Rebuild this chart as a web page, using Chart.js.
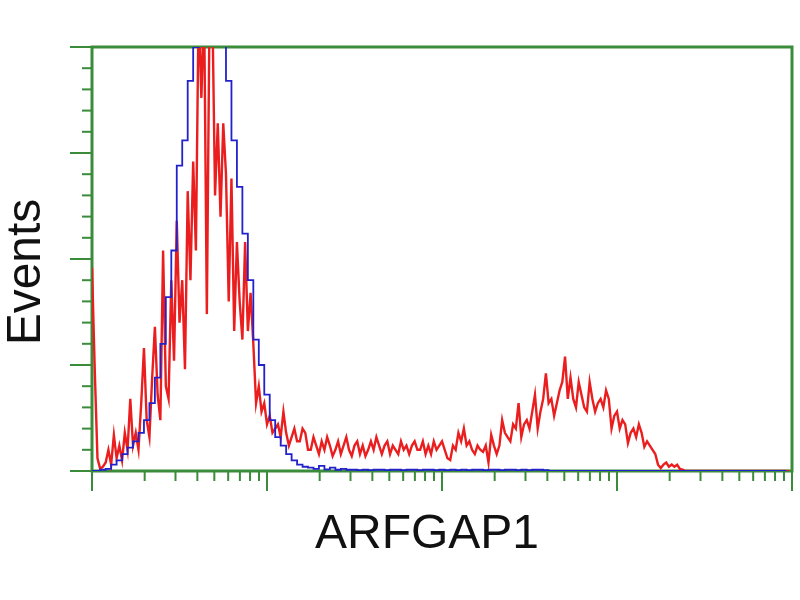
<!DOCTYPE html>
<html><head><meta charset="utf-8">
<script src="https://cdn.jsdelivr.net/npm/chart.js@4.4.0/dist/chart.umd.min.js"></script>
<style>html,body{margin:0;padding:0;background:#fff}</style>
</head><body>
<canvas id="c" width="800" height="600"></canvas>
<script>
// ---- data ----
const redBinWidth = 4;           // channels per bin, sample histogram
const blueBinWidth = 8;          // channels per bin, control histogram
const channelsPerDecade = 256;   // log scale, 4 decades = 1024 channels
const decades = [0, 1, 2, 3, 4];
const minorMultipliers = [2, 3, 4, 5, 6, 7, 8, 9];
const yMajorTicks = [0, 25, 50, 75, 100];
const yMinorTicks = [5, 10, 15, 20, 30, 35, 40, 45, 55, 60, 65, 70, 80, 85, 90, 95];
const xTitle = 'ARFGAP1';
const yTitle = 'Events';

// sample (red) histogram counts, 256 bins
const redCounts = [
  48, 24, 3, 0.5, 1, 2, 5, 1.5, 8.5, 3,
  6, 2.5, 9, 5, 17, 6, 9, 5, 16, 29,
  12, 8, 22, 34, 18, 12, 52, 20, 17, 45,
  26, 59, 35, 45, 24, 66, 45, 73, 52, 110,
  88, 110, 37, 110, 110, 65, 82, 60, 82, 70,
  40, 69, 33, 54, 40, 31, 54, 33, 42, 30,
  16, 20, 14, 16, 11, 13, 9, 10, 11, 8,
  14, 9, 6, 8, 10, 7, 7, 10, 9, 5,
  5, 8, 6, 4, 7, 5, 8, 6, 3.5, 5,
  7, 4, 6, 8, 5, 3.5, 6, 7, 4, 6,
  3.5, 5, 7, 5, 8, 6, 4, 6, 7, 4,
  6, 5, 4, 7, 5, 6, 4, 6, 7, 5,
  5, 7, 4, 6, 4, 7, 5, 6, 7, 5,
  3, 2.6, 6, 5, 9, 7, 10, 6, 7, 5,
  4, 6, 5, 4.5, 6, 2, 8.5, 6, 4, 6,
  12, 9, 8, 7, 11, 10, 16, 8, 11, 12,
  10, 14, 18, 10, 14, 17, 23, 16, 17, 13,
  16, 19, 21, 27, 17, 22, 17, 15, 21, 18,
  15, 14, 21, 17, 14, 16, 17, 15, 19, 17,
  10, 13, 14, 10, 12, 11, 6.6, 9, 10, 8,
  11, 9, 5.7, 7, 6, 5, 4, 1.5, 0.7, 1.5,
  2, 1, 1.5, 1, 1.5, 0.5, 0.3, 0, 0, 0,
  0, 0, 0, 0, 0, 0, 0, 0, 0, 0,
  0, 0, 0, 0, 0, 0, 0, 0, 0, 0,
  0, 0, 0, 0, 0, 0, 0, 0, 0, 0,
  0, 0, 0, 0, 0, 0
];
// isotype control (blue) histogram counts, 128 bins
const blueCounts = [
  0, 0, 0.3, 0.5, 1.5, 2.5, 4, 5.5, 7, 9,
  12, 16, 22, 30, 41, 52, 72, 78, 92, 100,
  115, 120, 120, 112, 104, 92, 78, 67, 56, 45,
  31, 25, 18, 12, 8, 6, 4, 2.5, 1.5, 1,
  0.8, 0.5, 1.2, 0.4, 0.8, 0.3, 0.5, 0.3, 0.3, 0.2,
  0.3, 0.2, 0.3, 0.3, 0.2, 0.3, 0.3, 0.2, 0.3, 0.3,
  0.2, 0.3, 0.3, 0.2, 0.3, 0.2, 0.3, 0.2, 0.3, 0.2,
  0.3, 0.3, 0.2, 0.3, 0.3, 0.2, 0.3, 0.3, 0.2, 0.3,
  0.2, 0.3, 0.3, 0.2, 0, 0, 0, 0, 0, 0,
  0, 0, 0, 0, 0, 0, 0, 0, 0, 0,
  0, 0, 0, 0, 0, 0, 0, 0, 0, 0,
  0, 0, 0, 0, 0, 0, 0, 0, 0, 0,
  0, 0, 0, 0, 0, 0, 0, 0
];

const toPoints = (arr, w) => arr.map((v, i) => ({ x: i * w, y: v }));

const GREEN = '#3a8c3a';
const FONT = '"Liberation Sans", Arial, sans-serif';

const framePlugin = {
  id: 'frame',
  beforeDatasetsDraw(chart) {
    const { ctx, chartArea: a, scales: { x, y } } = chart;
    ctx.save();
    ctx.strokeStyle = GREEN;
    const seg = (x1, y1, x2, y2) => { ctx.beginPath(); ctx.moveTo(x1, y1); ctx.lineTo(x2, y2); ctx.stroke(); };
    ctx.lineWidth = 2;
    decades.forEach(d => {
      const p = x.getPixelForValue(d * channelsPerDecade);
      seg(p, a.bottom, p, a.bottom + 20);
      if (d < decades[decades.length - 1]) {
        minorMultipliers.forEach(k => {
          const q = x.getPixelForValue((d + Math.log10(k)) * channelsPerDecade);
          seg(q, a.bottom, q, a.bottom + 10);
        });
      }
    });
    yMajorTicks.forEach(v => { const p = y.getPixelForValue(v); seg(a.left - 22, p, a.left, p); });
    yMinorTicks.forEach(v => { const p = y.getPixelForValue(v); seg(a.left - 10, p, a.left, p); });
    ctx.lineWidth = 3;
    ctx.strokeRect(a.left, a.top, a.right - a.left, a.bottom - a.top);
    ctx.restore();
  },
  afterDraw(chart) {
    const { ctx } = chart;
    ctx.save();
    ctx.fillStyle = '#111';
    ctx.font = '48px ' + FONT;
    ctx.textAlign = 'center';
    ctx.textBaseline = 'middle';
    ctx.fillText(xTitle, 427, 535);
    ctx.translate(27, 272);
    ctx.rotate(-Math.PI / 2);
    ctx.fillText(yTitle, 0, 0);
    ctx.restore();
  }
};

new Chart(document.getElementById('c'), {
  type: 'line',
  data: {
    datasets: [
      { label: 'Control', data: toPoints(blueCounts, blueBinWidth), borderColor: '#2222cc', borderWidth: 1.8, pointRadius: 0, stepped: 'middle', fill: false },
      { label: 'ARFGAP1', data: toPoints(redCounts, redBinWidth), borderColor: '#ea1e1e', borderWidth: 2.4, pointRadius: 0, tension: 0, fill: false }
    ]
  },
  options: {
    responsive: false,
    animation: false,
    events: [],
    layout: { padding: { top: 47, right: 8, left: 0, bottom: 0 } },
    plugins: { legend: { display: false }, tooltip: { enabled: false }, title: { display: false } },
    scales: {
      x: {
        type: 'linear', min: 0, max: decades[decades.length - 1] * channelsPerDecade,
        grid: { display: false }, border: { display: false }, ticks: { display: false },
        afterFit: s => { s.height = 129; }
      },
      y: {
        type: 'linear', min: yMajorTicks[0], max: yMajorTicks[yMajorTicks.length - 1],
        grid: { display: false }, border: { display: false }, ticks: { display: false },
        afterFit: s => { s.width = 92; }
      }
    }
  },
  plugins: [framePlugin]
});
</script>
</body></html>
